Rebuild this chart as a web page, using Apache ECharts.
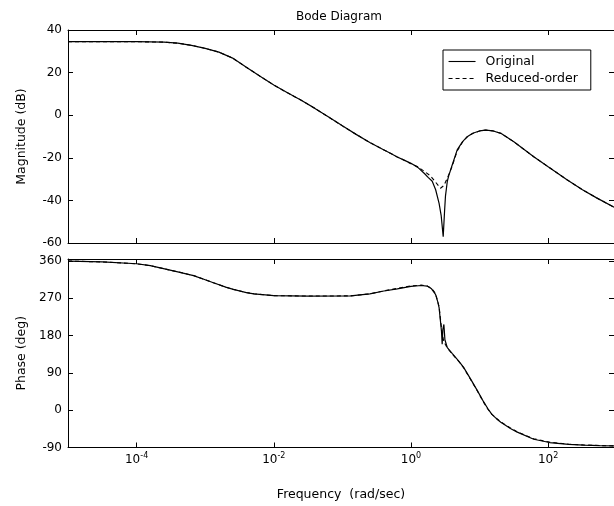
<!DOCTYPE html>
<html>
<head>
<meta charset="utf-8">
<script src="https://cdn.jsdelivr.net/npm/echarts@6/dist/echarts.min.js"></script>
<style>
  html, body { margin: 0; padding: 0; background: #fff; }
  #chart { width: 614px; height: 506px; }
</style>
</head>
<body>
<div id="chart"></div>
<script>
// frequencies are given as log10(rad/sec)
const decadeTicks = [-4, -2, 0, 2];
const phaseTicks = [-90, 0, 90, 180, 270, 360];

const magFreqOrig = [-5, -4, -3.6, -3.4, -3.2, -3.0, -2.8, -2.6, -2.4, -2.2, -2.0, -1.8, -1.6, -1.4, -1.2, -1.0,
  -0.8, -0.6, -0.4, -0.3, -0.2, -0.1, 0, 0.1, 0.2, 0.25, 0.31, 0.36, 0.41, 0.44, 0.47, 0.49, 0.503, 0.53, 0.55,
  0.6, 0.674, 0.75, 0.82, 0.9, 1.0, 1.09, 1.2, 1.31, 1.5, 1.79, 2.0, 2.28, 2.5, 2.7, 2.96];
const magOrig = [34.5, 34.5, 34.3, 33.8, 32.8, 31.4, 29.6, 26.8, 22.5, 18.3, 14.2, 10.5, 7, 3.2, -0.9, -5.0,
  -9.0, -12.8, -16.2, -17.9, -19.6, -21.1, -22.6, -24.5, -27.5, -29.2, -31, -35, -41.4, -47, -57, -45, -38, -31, -28.5,
  -23.5, -16.3, -12.5, -10.1, -8.5, -7.4, -7.0, -7.4, -8.5, -12.5, -19.5, -24.2, -30.4, -35, -38.7, -43.2];

const magFreqRed = [-5, -4, -3.6, -3.4, -3.2, -3.0, -2.8, -2.6, -2.4, -2.2, -2.0, -1.8, -1.6, -1.4, -1.2, -1.0,
  -0.8, -0.6, -0.4, -0.3, -0.2, -0.1, 0, 0.1, 0.2, 0.285, 0.36, 0.43, 0.48, 0.53, 0.6, 0.674, 0.75, 0.82, 0.9,
  1.0, 1.09, 1.2, 1.31, 1.5, 1.79, 2.0, 2.28, 2.5, 2.7, 2.96];
const magRed = [34.5, 34.5, 34.3, 33.8, 32.8, 31.4, 29.6, 26.8, 22.5, 18.3, 14.2, 10.5, 7, 3.2, -0.9, -5.0,
  -9.0, -12.8, -16.2, -17.9, -19.6, -21.1, -22.8, -24.2, -26.5, -28.5, -31.5, -34.3, -33, -29.6, -24, -16.8, -12.7, -10.2, -8.6,
  -7.4, -7.0, -7.4, -8.5, -12.5, -19.5, -24.2, -30.4, -35, -38.7, -43.2];

const phFreqOrig = [-5, -4.5, -4, -3.8, -3.56, -3.4, -3.17, -3.0, -2.88, -2.7, -2.59, -2.4, -2.29, -2.0, -1.5, -0.88,
  -0.6, -0.395, -0.2, 0, 0.15, 0.236, 0.3, 0.358, 0.39, 0.41, 0.43, 0.445, 0.455, 0.465, 0.48, 0.495, 0.53, 0.6,
  0.7, 0.77, 0.87, 0.97, 1.06, 1.12, 1.18, 1.25, 1.31, 1.45, 1.55, 1.79, 2.02, 2.3, 2.52, 2.75, 2.96];
const phOrig = [360, 358, 353.5, 349, 340, 334, 325, 315, 307.7, 297, 291.7, 284, 281, 276.5, 275.6, 276,
  281, 287.7, 293, 299, 301, 299.7, 293, 279.7, 262, 247.5, 215, 190, 159, 195, 207, 170, 151, 137,
  118, 102.8, 75, 46.6, 20, 4, -10, -21, -29, -44, -53, -70, -78, -82.5, -84.4, -85.5, -86];

const phFreqRed = [-5, -4.5, -4, -3.8, -3.56, -3.4, -3.17, -3.0, -2.88, -2.7, -2.59, -2.4, -2.29, -2.0, -1.5, -0.88,
  -0.6, -0.395, -0.2, 0, 0.15, 0.236, 0.3, 0.358, 0.41, 0.43, 0.455, 0.48, 0.53, 0.6,
  0.7, 0.77, 0.87, 0.97, 1.06, 1.12, 1.18, 1.25, 1.31, 1.45, 1.55, 1.79, 2.02, 2.3, 2.52, 2.75, 2.96];
const phRed = [360, 358, 353.5, 349, 340, 334, 325, 315, 307.7, 297, 291.7, 284, 281, 276.5, 275.6, 276,
  281, 288, 294, 300, 302, 300, 294, 282, 250, 220, 185, 165, 150, 136,
  117, 102, 74, 46, 19, 3, -10, -20, -28, -43, -52, -69, -77, -82, -84, -85.3, -86];

const font = "'DejaVu Sans', sans-serif";
const pairs = (xs, ys) => xs.map((x, i) => [x, ys[i]]);

const chart = echarts.init(document.getElementById("chart"));

const tickStyle = { show: true, inside: true, length: 5, lineStyle: { color: "#000", width: 1 } };
const lineStyle = { show: true, onZero: false, lineStyle: { color: "#000", width: 1 } };
const nameStyle = { fontSize: 12.5, fontFamily: font, color: "#000" };

function xAxis(grid, position, labels) {
  return {
    type: "value",
    gridIndex: grid,
    position,
    min: -5,
    max: 2.96,
    axisLine: lineStyle,
    axisTick: Object.assign({ customValues: decadeTicks }, tickStyle),
    splitLine: { show: false },
    axisLabel: labels ? {
      show: true,
      customValues: decadeTicks,
      margin: 4,
      formatter: (v) => "{b|10}{e|" + v + "}",
      rich: {
        b: { fontSize: 12, fontFamily: font, color: "#000", lineHeight: 16 },
        e: { fontSize: 8, fontFamily: font, color: "#000", lineHeight: 6, verticalAlign: "top" }
      }
    } : { show: false },
    name: labels ? "Frequency  (rad/sec)" : "",
    nameLocation: "middle",
    nameGap: 41,
    nameTextStyle: nameStyle
  };
}

function yAxis(grid, position, opts) {
  return Object.assign({
    type: "value",
    gridIndex: grid,
    position,
    axisLine: lineStyle,
    splitLine: { show: false },
    nameLocation: "middle",
    nameGap: 40,
    nameTextStyle: nameStyle
  }, opts);
}

const tickLabels = { show: true, margin: 6, fontSize: 12, fontFamily: font, color: "#000" };

chart.setOption({
  animation: false,
  backgroundColor: "#fff",
  title: {
    text: "Bode Diagram",
    left: 334,
    top: 6,
    textAlign: "center",
    textStyle: { fontSize: 12, fontWeight: "normal", fontFamily: font, color: "#000" }
  },
  legend: {
    data: ["Original", "Reduced-order"],
    orient: "vertical",
    left: 443,
    top: 50,
    padding: [5, 13, 5, 5],
    itemGap: 4,
    itemWidth: 27,
    itemHeight: 14,
    borderColor: "#000",
    borderWidth: 1,
    backgroundColor: "#fff",
    selectedMode: false,
    itemStyle: { opacity: 0 },
    lineStyle: { width: 1.1 },
    textStyle: { fontSize: 12.5, fontFamily: font, color: "#000", padding: [0, 0, 0, 5] }
  },
  grid: [
    { left: 68, top: 30, width: 547, height: 213 },
    { left: 68, top: 259, width: 547, height: 188.5 }
  ],
  xAxis: [
    xAxis(0, "bottom", false),
    xAxis(0, "top", false),
    xAxis(1, "bottom", true),
    xAxis(1, "top", false)
  ],
  yAxis: [
    yAxis(0, "left", { min: -60, max: 40, interval: 20, axisTick: tickStyle, axisLabel: tickLabels, name: "Magnitude (dB)" }),
    yAxis(0, "right", { min: -60, max: 40, interval: 20, axisTick: tickStyle, axisLabel: { show: false } }),
    yAxis(1, "left", {
      min: -90, max: 365,
      axisTick: Object.assign({ customValues: phaseTicks }, tickStyle),
      axisLabel: Object.assign({ customValues: phaseTicks }, tickLabels),
      name: "Phase (deg)"
    }),
    yAxis(1, "right", {
      min: -90, max: 365,
      axisTick: Object.assign({ customValues: phaseTicks }, tickStyle),
      axisLabel: { show: false }
    })
  ],
  series: [
    {
      name: "Reduced-order", type: "line", xAxisIndex: 0, yAxisIndex: 0, symbol: "none",
      itemStyle: { color: "#000" },
      lineStyle: { color: "#000", width: 1.1, type: [4, 3] }, data: pairs(magFreqRed, magRed)
    },
    {
      name: "Original", type: "line", xAxisIndex: 0, yAxisIndex: 0, symbol: "none",
      itemStyle: { color: "#000" },
      lineStyle: { color: "#000", width: 1.2 }, data: pairs(magFreqOrig, magOrig)
    },
    {
      name: "Reduced-order", type: "line", xAxisIndex: 2, yAxisIndex: 2, symbol: "none",
      itemStyle: { color: "#000" },
      lineStyle: { color: "#000", width: 1.1, type: [4, 3] }, data: pairs(phFreqRed, phRed)
    },
    {
      name: "Original", type: "line", xAxisIndex: 2, yAxisIndex: 2, symbol: "none",
      itemStyle: { color: "#000" },
      lineStyle: { color: "#000", width: 1.2 }, data: pairs(phFreqOrig, phOrig)
    }
  ]
});
</script>
</body>
</html>
